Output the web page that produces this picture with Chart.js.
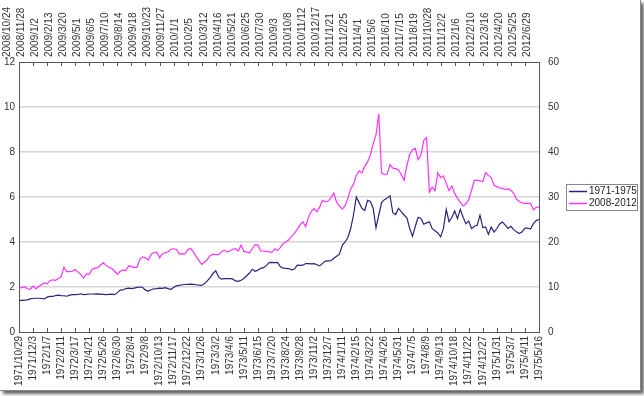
<!DOCTYPE html>
<html>
<head>
<meta charset="utf-8">
<script src="https://cdn.jsdelivr.net/npm/chart.js@4/dist/chart.umd.min.js"></script>
<style>
  body { margin: 0; background: #fff; }
  #wrap { position: relative; width: 644px; height: 396px; }
  #frame {
    position: absolute; left: 0; top: 0; width: 640px; height: 390px;
    border-right: 1px solid #888; border-bottom: 1px solid #888;
    box-shadow: 3px 3px 3px #666; background: #fff;
  }
  #chart { position: absolute; left: 0; top: 0; }
</style>
</head>
<body>
<div id="wrap">
  <div id="frame"></div>
  <canvas id="chart" width="644" height="396"></canvas>
</div>
<script>
// Datumsbeschriftungen (alle 5 Wochen)
const bottomTicks = [
  "1971/10/29", "1971/12/3", "1972/1/7", "1972/2/11", "1972/3/17", "1972/4/21", "1972/5/26", "1972/6/30",
  "1972/8/4", "1972/9/8", "1972/10/13", "1972/11/17", "1972/12/22", "1973/1/26", "1973/3/2", "1973/4/6",
  "1973/5/11", "1973/6/15", "1973/7/20", "1973/8/24", "1973/9/28", "1973/11/2", "1973/12/7", "1974/1/11",
  "1974/2/15", "1974/3/22", "1974/4/26", "1974/5/31", "1974/7/5", "1974/8/9", "1974/9/13", "1974/10/18",
  "1974/11/22", "1974/12/27", "1975/1/31", "1975/3/7", "1975/4/11", "1975/5/16"
];
const topTicks = [
  "2008/10/24", "2008/11/28", "2009/1/2", "2009/2/13", "2009/3/20", "2009/5/1", "2009/6/5", "2009/7/10",
  "2009/8/14", "2009/9/18", "2009/10/23", "2009/11/27", "2010/1/1", "2010/2/5", "2010/3/12", "2010/4/16",
  "2010/5/21", "2010/6/25", "2010/7/30", "2010/9/3", "2010/10/8", "2010/11/12", "2010/12/17", "2011/1/21",
  "2011/2/25", "2011/4/1", "2011/5/6", "2011/6/10", "2011/7/15", "2011/8/19", "2011/10/28", "2011/12/2",
  "2012/1/6", "2012/2/10", "2012/3/16", "2012/4/20", "2012/5/25", "2012/6/29"
];

// 1971-1975 (linke Achse)
const series1971 = [
  1.41, 1.41, 1.42, 1.43, 1.47, 1.49, 1.50, 1.50, 1.49, 1.47,
  1.55, 1.58, 1.58, 1.62, 1.64, 1.62, 1.61, 1.59, 1.64, 1.66,
  1.66, 1.67, 1.70, 1.66, 1.67, 1.69, 1.69, 1.68, 1.69, 1.68,
  1.67, 1.66, 1.67, 1.68, 1.66, 1.75, 1.86, 1.87, 1.93, 1.95,
  1.93, 1.95, 1.98, 2.00, 1.98, 1.86, 1.82, 1.88, 1.92, 1.93,
  1.95, 1.94, 1.97, 1.93, 1.90, 1.98, 2.05, 2.07, 2.10, 2.11,
  2.12, 2.13, 2.12, 2.10, 2.08, 2.07, 2.15, 2.27, 2.42, 2.60,
  2.72, 2.45, 2.35, 2.37, 2.37, 2.37, 2.36, 2.27, 2.25, 2.30,
  2.38, 2.50, 2.62, 2.79, 2.70, 2.75, 2.83, 2.86, 2.95, 3.08,
  3.09, 3.08, 3.09, 2.90, 2.84, 2.83, 2.82, 2.76, 2.80, 2.97,
  2.96, 2.97, 3.04, 3.04, 3.03, 3.04, 2.99, 2.94, 3.05, 3.15,
  3.16, 3.17, 3.28, 3.37, 3.46, 3.85, 4.00, 4.20, 4.60, 5.20,
  6.00, 5.75, 5.50, 5.40, 5.85, 5.80, 5.50, 4.63, 5.20, 5.75,
  5.88, 5.95, 6.05, 5.30, 5.22, 5.50, 5.35, 5.20, 5.07, 4.60,
  4.25, 4.70, 5.10, 5.05, 4.79, 4.85, 4.90, 4.59, 4.50, 4.40,
  4.23, 4.59, 5.44, 4.90, 5.10, 5.38, 5.04, 5.45, 5.10, 4.81,
  4.93, 4.60, 4.70, 4.74, 5.19, 4.64, 4.67, 4.34, 4.67, 4.44,
  4.60, 4.80, 4.89, 4.75, 4.60, 4.70, 4.55, 4.45, 4.38, 4.45,
  4.62, 4.62, 4.58, 4.82, 4.95, 5.00
];

// 2008-2012 (rechte Achse)
const series2008 = [
  9.7, 9.9, 10.0, 9.6, 9.5, 10.2, 9.6, 10.1, 10.5, 10.9,
  10.7, 11.4, 11.6, 11.5, 11.9, 12.3, 14.4, 13.4, 13.4, 13.5,
  13.9, 13.3, 12.8, 12.0, 12.9, 12.8, 13.9, 14.2, 14.3, 14.9,
  15.4, 14.8, 14.4, 14.1, 13.5, 12.8, 13.5, 13.8, 13.6, 14.7,
  14.6, 14.3, 14.4, 16.2, 16.7, 16.5, 16.0, 17.3, 17.6, 17.8,
  16.5, 17.4, 17.6, 17.8, 18.4, 18.5, 18.4, 17.3, 17.4, 17.3,
  18.3, 18.6, 17.8, 16.8, 15.9, 15.0, 15.5, 16.1, 17.0, 17.3,
  17.2, 17.2, 17.8, 18.2, 17.8, 18.0, 18.4, 18.5, 18.0, 19.3,
  17.9, 17.8, 17.6, 18.5, 19.4, 19.3, 18.0, 18.0, 17.9, 17.8,
  17.7, 18.5, 18.1, 18.8, 19.7, 20.0, 20.5, 21.3, 21.9, 22.8,
  23.8, 24.5, 23.4, 25.5, 26.8, 27.4, 26.7, 27.8, 29.3, 28.9,
  29.1, 29.8, 30.9, 28.8, 28.0, 27.3, 28.0, 29.7, 31.8, 32.8,
  34.8, 35.8, 35.3, 36.8, 37.8, 39.3, 41.8, 43.8, 48.5, 35.3,
  35.0, 35.1, 37.2, 36.4, 36.3, 36.0, 35.0, 33.7, 37.0, 39.5,
  40.5, 40.8, 38.3, 39.3, 42.6, 43.2, 31.1, 32.2, 31.4, 35.4,
  34.3, 34.7, 33.0, 31.4, 32.4, 30.8, 29.7, 28.8, 28.0, 28.5,
  29.4, 31.5, 33.7, 33.7, 33.6, 33.4, 35.4, 34.8, 34.3, 32.6,
  32.3, 32.0, 31.9, 31.7, 31.8, 31.5, 30.8, 29.5, 29.0, 28.7,
  28.6, 28.6, 28.6, 27.1, 27.7, 27.8
];

const weeks = series1971.map((_, i) => i);
const TICK_STEP = 5;

Chart.defaults.font.family = '"Liberation Sans", Arial, sans-serif';
Chart.defaults.font.size = 10;
Chart.defaults.color = "#333";

// kleine Striche nach innen an jeder Beschriftung
const innerTicks = {
  id: "innerTicks",
  afterDatasetsDraw(chart) {
    const { ctx, chartArea: a } = chart;
    ctx.save();
    ctx.strokeStyle = "#555";
    ctx.lineWidth = 1;
    ctx.beginPath();
    for (let k = 0; k < bottomTicks.length; k++) {
      const px = Math.round(chart.scales.x.getPixelForValue(k * TICK_STEP)) + 0.5;
      ctx.moveTo(px, a.bottom);
      ctx.lineTo(px, a.bottom - 4);
      ctx.moveTo(px, a.top);
      ctx.lineTo(px, a.top + 4);
    }
    ctx.stroke();
    ctx.restore();
  }
};

// Legende mit Rahmen
const boxLegend = {
  id: "boxLegend",
  afterDraw(chart) {
    const ctx = chart.ctx;
    const x = 566, y = 184, w = 71, h = 26;
    ctx.save();
    ctx.fillStyle = "#fff";
    ctx.fillRect(x, y, w, h);
    ctx.strokeStyle = "#888";
    ctx.lineWidth = 1;
    ctx.strokeRect(x + 0.5, y + 0.5, w, h);
    ctx.font = '10px "Liberation Sans", Arial, sans-serif';
    ctx.textBaseline = "middle";
    chart.data.datasets.forEach((ds, i) => {
      const ly = y + 7.5 + i * 12;
      ctx.strokeStyle = ds.borderColor;
      ctx.lineWidth = 1.5;
      ctx.beginPath();
      ctx.moveTo(x + 3, ly);
      ctx.lineTo(x + 21, ly);
      ctx.stroke();
      ctx.fillStyle = "#222";
      ctx.fillText(ds.label, x + 23, ly);
    });
    ctx.restore();
  }
};

new Chart(document.getElementById("chart"), {
  type: "line",
  data: {
    labels: weeks,
    datasets: [
      {
        label: "1971-1975",
        data: series1971,
        borderColor: "#26267d",
        borderWidth: 1.2,
        pointRadius: 0,
        yAxisID: "y",
        xAxisID: "x"
      },
      {
        label: "2008-2012",
        data: series2008,
        borderColor: "#ff33ff",
        borderWidth: 1.2,
        pointRadius: 0,
        yAxisID: "y2",
        xAxisID: "x"
      }
    ]
  },
  options: {
    responsive: false,
    animation: false,
    layout: { padding: 0 },
    plugins: { legend: { display: false }, tooltip: { enabled: false } },
    scales: {
      x: {
        type: "category",
        labels: weeks,
        position: "bottom",
        grid: { display: false, drawTicks: false },
        border: { display: true, color: "#555", width: 1 },
        ticks: {
          autoSkip: false,
          minRotation: 90,
          maxRotation: 90,
          padding: 4,
          callback: (v, i) => (i % TICK_STEP === 0 ? bottomTicks[i / TICK_STEP] : null)
        },
        afterFit: (s) => { s.height = 64; }
      },
      x2: {
        type: "category",
        labels: weeks,
        position: "top",
        grid: { display: false, drawTicks: false },
        border: { display: true, color: "#555", width: 1 },
        ticks: {
          autoSkip: false,
          minRotation: 90,
          maxRotation: 90,
          padding: 5,
          callback: (v, i) => (i % TICK_STEP === 0 ? topTicks[i / TICK_STEP] : null)
        },
        afterFit: (s) => { s.height = 62; }
      },
      y: {
        position: "left",
        min: 0,
        max: 12,
        ticks: { stepSize: 2, padding: 4 },
        grid: {
          drawTicks: false,
          lineWidth: 1.5,
          color: (c) => (c.tick.value === 0 || c.tick.value === 12 ? "rgba(0,0,0,0)" : "#d6d6d6")
        },
        border: { display: true, color: "#555", width: 1 },
        afterFit: (s) => { s.width = 19; }
      },
      y2: {
        position: "right",
        min: 0,
        max: 60,
        ticks: { stepSize: 10, padding: 9 },
        grid: { display: false, drawTicks: false },
        border: { display: true, color: "#555", width: 1 },
        afterFit: (s) => { s.width = 105; }
      }
    }
  },
  plugins: [innerTicks, boxLegend]
});
</script>
</body>
</html>
